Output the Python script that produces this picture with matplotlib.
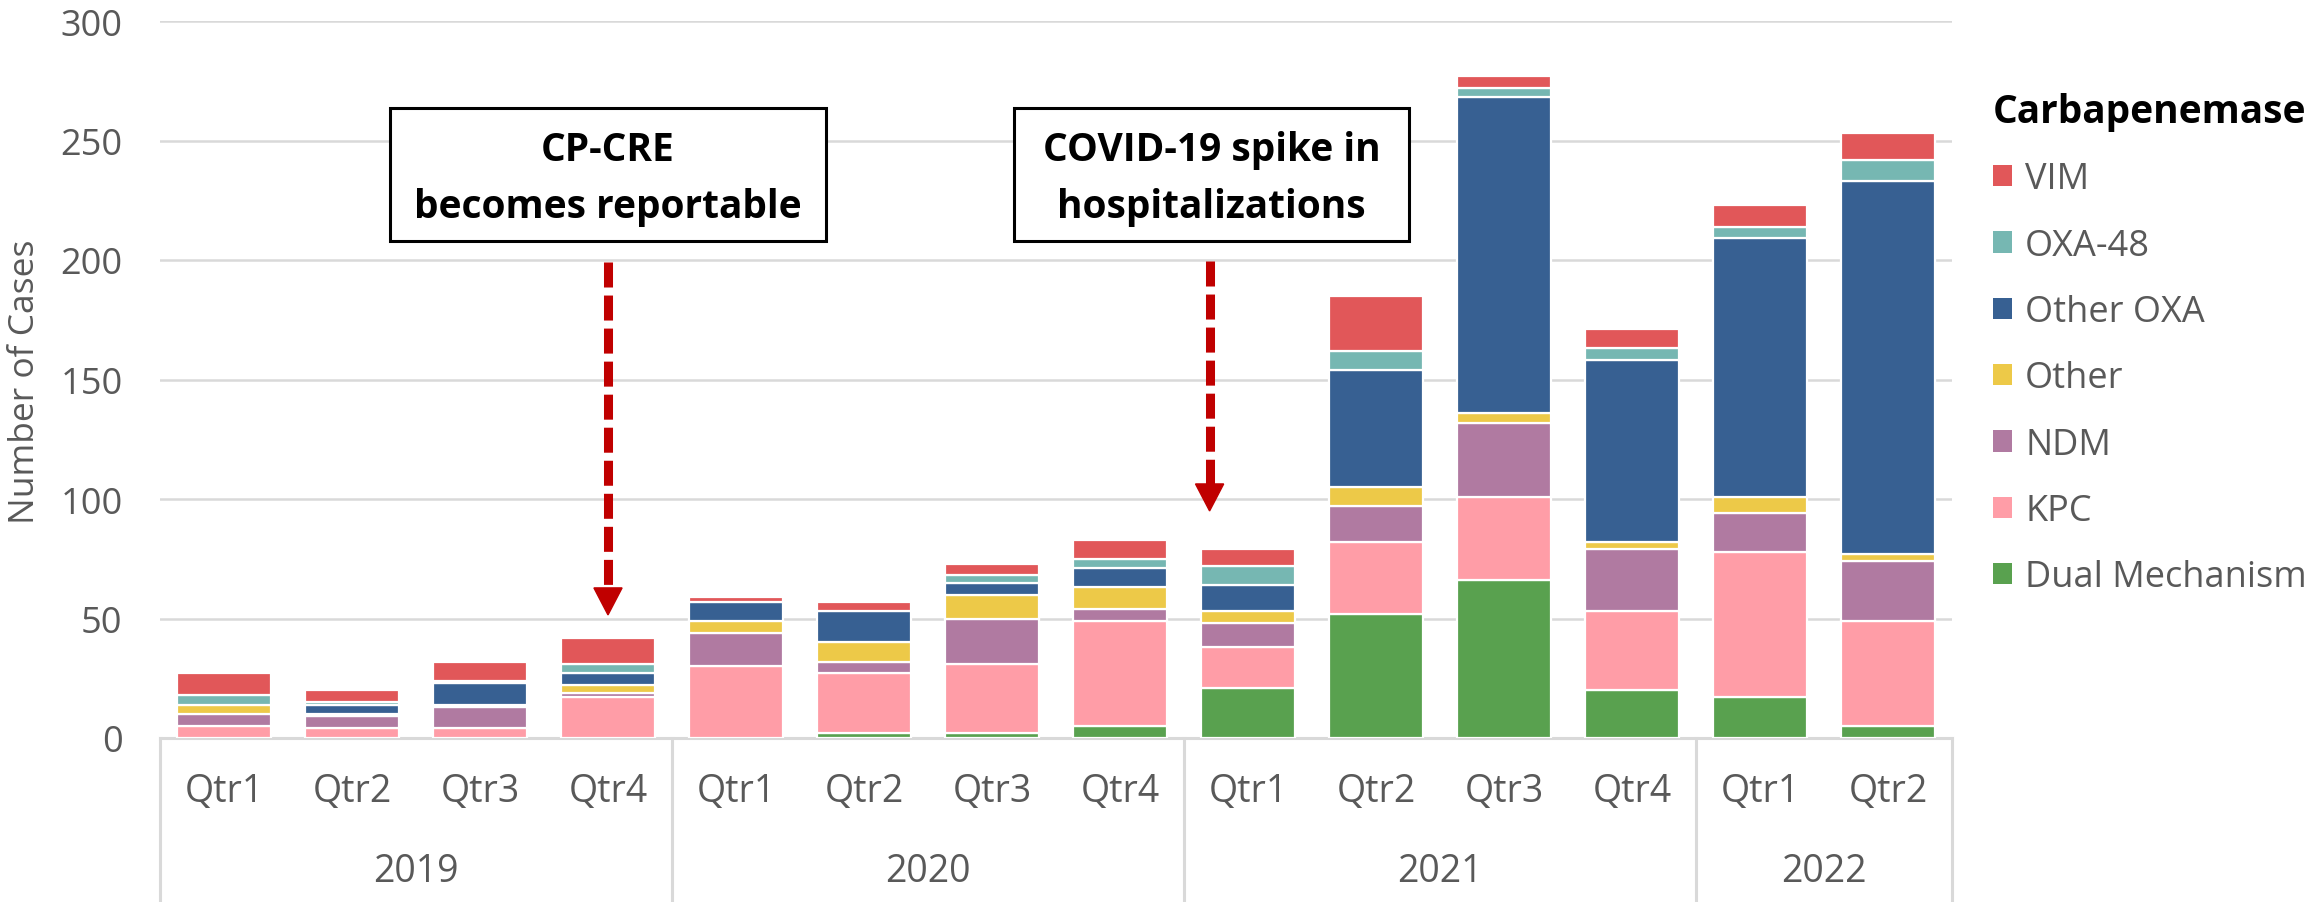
import matplotlib.pyplot as plt
import numpy as np
from matplotlib.patches import Rectangle, Polygon, Patch

plt.rcParams['font.family'] = ['Open Sans', 'DejaVu Sans']

# Category axis (two levels)
quarters = ['Qtr1', 'Qtr2', 'Qtr3', 'Qtr4',
            'Qtr1', 'Qtr2', 'Qtr3', 'Qtr4',
            'Qtr1', 'Qtr2', 'Qtr3', 'Qtr4',
            'Qtr1', 'Qtr2']
years = ['2019', '2020', '2021', '2022']
quarters_per_year = [4, 4, 4, 2]

# Stacked series, bottom to top
series_names = ['Dual Mechanism', 'KPC', 'NDM', 'Other', 'Other OXA', 'OXA-48', 'VIM']
dual = [0, 0, 0, 0, 0, 2, 2, 5, 21, 52, 66, 20, 17, 5]
kpc = [5, 4, 4, 17, 30, 25, 29, 44, 17, 30, 35, 33, 61, 44]
ndm = [5, 5, 9, 2, 14, 5, 19, 5, 10, 15, 31, 26, 16, 25]
other = [4, 1, 1, 3, 5, 8, 10, 9, 5, 8, 4, 3, 7, 3]
other_oxa = [0, 4, 9, 5, 8, 13, 5, 8, 11, 49, 132, 76, 108, 156]
oxa48 = [4, 1, 1, 4, 0, 0, 3, 4, 8, 8, 4, 5, 5, 9]
vim = [9, 5, 8, 11, 2, 4, 5, 8, 7, 23, 5, 8, 9, 11]
series_values = [dual, kpc, ndm, other, other_oxa, oxa48, vim]
colors = ['#59A14F', '#FF9DA7', '#B07AA1', '#EDC948', '#376092', '#76B7B2', '#E15759']

W, H = 2323, 903
GREY = '#595959'
LINE = '#D9D9D9'

fig = plt.figure(figsize=(W / 100, H / 100), dpi=100)
ax = fig.add_axes([160 / W, 164 / H, 1792 / W, 717 / H])

x = np.arange(len(quarters))
bottom = np.zeros(len(x))
for name, vals, col in zip(series_names, series_values, colors):
    vals = np.array(vals, dtype=float)
    bars = ax.bar(x, vals, 0.727, bottom=bottom, color=col, edgecolor='white',
                  linewidth=1.6, label=name, zorder=3)
    for r, v in zip(bars, vals):
        if v == 0:
            r.set_visible(False)
    bottom += vals

ax.set_xlim(-0.5, len(x) - 0.5)
ax.set_ylim(0, 300)
ax.set_yticks(range(0, 301, 50))
ax.grid(axis='y', color=LINE, linewidth=1.8, zorder=0)
ax.set_axisbelow(True)
for s in ['top', 'right', 'left']:
    ax.spines[s].set_visible(False)
ax.spines['bottom'].set_color(LINE)
ax.spines['bottom'].set_linewidth(2.2)
ax.set_xticks([])
ax.tick_params(axis='y', length=0, pad=27, labelsize=26, labelcolor=GREY)

# two-level category labels
trans = ax.get_xaxis_transform()
for i, q in enumerate(quarters):
    ax.text(i, -0.074, q, transform=trans, ha='center', va='center',
            fontsize=27, color=GREY)
start = 0
bounds = [-0.5]
for yr, n in zip(years, quarters_per_year):
    ax.text(start + (n - 1) / 2, -0.1855, yr, transform=trans, ha='center',
            va='center', fontsize=27, color=GREY)
    start += n
    bounds.append(start - 0.5)
for b in bounds:
    ax.plot([b, b], [0, -0.229], transform=trans, color=LINE, lw=2.2,
            clip_on=False)

fig.text(25 / W, 1 - 382 / H, 'Number of Cases', rotation=90, ha='center',
         va='center', fontsize=25.5, color=GREY)

# annotation boxes
notes = [
    (1.297, 4.70, 'CP-CRE', 'becomes reportable'),
    (6.17, 9.26, 'COVID-19 spike in', 'hospitalizations'),
]
for x0, x1, l1, l2 in notes:
    ax.add_patch(Rectangle((x0, 208), x1 - x0, 55.4, facecolor='white',
                           edgecolor='black', lw=2.2, zorder=5))
    cx = (x0 + x1) / 2
    ax.text(cx, 242.0, l1, ha='center', va='baseline', fontsize=28,
            fontweight='bold', color='black', zorder=6)
    ax.text(cx, 218, l2, ha='center', va='baseline', fontsize=28,
            fontweight='bold', color='black', zorder=6)

# dashed arrows
arrows = [(3.0, 199, 51.5), (7.7, 199.6, 95)]
for ax_x, top, tip in arrows:
    ax.plot([ax_x, ax_x], [top, tip + 11.3], color='#C00000', lw=6.5,
            linestyle=(0, (2.77, 0.89)), solid_capstyle='butt', zorder=6)
    ax.add_patch(Polygon([(ax_x - 0.11, tip + 11.3), (ax_x + 0.11, tip + 11.3),
                          (ax_x, tip)], closed=True, color='#C00000', zorder=6))

handles = [Patch(facecolor=c, edgecolor='none') for c in colors]
ax.legend(handles[::-1], series_names[::-1], title='Carbapenemase',
          loc='upper left', bbox_to_anchor=(1993 / W, 1 - 93 / H),
          bbox_transform=fig.transFigure, frameon=False, fontsize=26,
          title_fontproperties={'weight': 'bold', 'size': 28},
          handlelength=0.53, handleheight=0.53, handletextpad=0.36,
          labelspacing=0.84, alignment='left', borderpad=0,
          borderaxespad=0, labelcolor=GREY)

fig.savefig('out.png', dpi=100)
